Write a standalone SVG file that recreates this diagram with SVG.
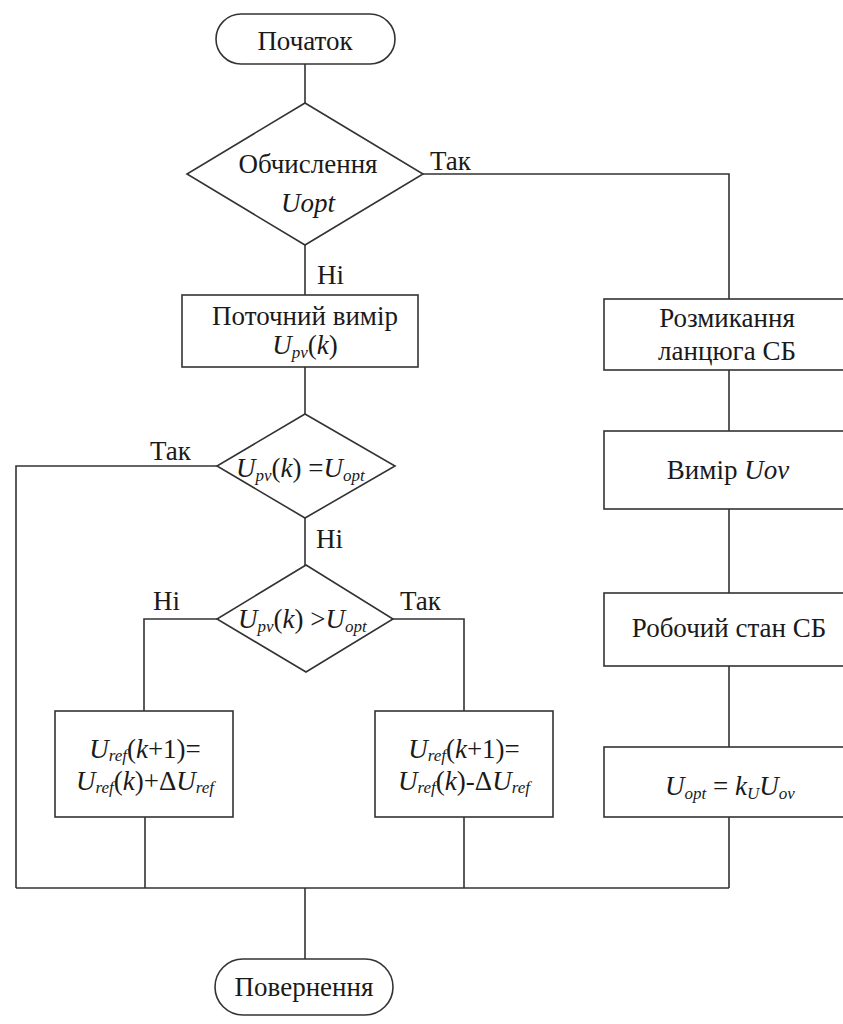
<svg xmlns="http://www.w3.org/2000/svg" width="843" height="1024" viewBox="0 0 843 1024">
<style>
.s{fill:#fff;stroke:#333;stroke-width:1.6}
.c{fill:none;stroke:#333;stroke-width:1.6}
text{font-size:27px;fill:#1a1a1a}
.m{text-anchor:middle}
.i{font-style:italic}
.sb{font-size:17px;font-style:italic}
</style>
<rect width="843" height="1024" fill="#fff"/>
<g id="connectors">
<path class="c" d="M305,64V103M305,245V295M305,367V414M305,518V565"/>
<path class="c" d="M423,174H729V299M729,370V431M729,509V593M729,666V747"/>
<path class="c" d="M217,466H16V888M217,619H144V711M393,619H464V711"/>
<path class="c" d="M16,888H729M145,817V888M464,817V888M729,817V888M305,888V959"/>
</g>
<g font-family="Liberation Serif, DejaVu Serif, Times New Roman, serif">
<g id="start">
<rect class="s" x="216" y="14" width="179" height="50" rx="25"/>
<text class="m" x="305" y="50">Початок</text>
</g>
<g id="calc">
<polygon class="s" points="305,103 423,174 305,245 187,174"/>
<text class="m" x="308" y="173">Обчислення</text>
<text class="m i" x="308" y="212">Uopt</text>
<text x="430" y="170">Так</text>
<text x="317" y="284">Ні</text>
</g>
<g id="measure">
<rect class="s" x="182" y="295" width="236" height="72"/>
<text class="m" x="305" y="325">Поточний вимір</text>
<text class="m" x="305" y="354"><tspan class="i">U</tspan><tspan class="sb" dy="4">pv</tspan><tspan dy="-4">(</tspan><tspan class="i">k</tspan>)</text>
</g>
<g id="eq">
<polygon class="s" points="305,414 395,466 305,518 217,466"/>
<text x="236" y="477"><tspan class="i">U</tspan><tspan class="sb" dy="4">pv</tspan><tspan dy="-4">(</tspan><tspan class="i">k</tspan>) =<tspan class="i">U</tspan><tspan class="sb" dy="4">opt</tspan></text>
<text x="150" y="460">Так</text>
<text x="316" y="548">Ні</text>
</g>
<g id="gt">
<polygon class="s" points="306,565 393,619 306,672 217,619"/>
<text x="238" y="628"><tspan class="i">U</tspan><tspan class="sb" dy="4">pv</tspan><tspan dy="-4">(</tspan><tspan class="i">k</tspan>) &gt;<tspan class="i">U</tspan><tspan class="sb" dy="4">opt</tspan></text>
<text x="153" y="610">Ні</text>
<text x="400" y="610">Так</text>
</g>
<g id="inc">
<rect class="s" x="55" y="711" width="178" height="106"/>
<text class="m" x="145" y="758"><tspan class="i">U</tspan><tspan class="sb" dy="3">ref</tspan><tspan dy="-3">(</tspan><tspan class="i">k</tspan>+1)=</text>
<text class="m" x="145" y="790"><tspan class="i">U</tspan><tspan class="sb" dy="3">ref</tspan><tspan dy="-3">(</tspan><tspan class="i">k</tspan>)+Δ<tspan class="i">U</tspan><tspan class="sb" dy="3">ref</tspan></text>
</g>
<g id="dec">
<rect class="s" x="375" y="711" width="178" height="106"/>
<text class="m" x="464" y="758"><tspan class="i">U</tspan><tspan class="sb" dy="3">ref</tspan><tspan dy="-3">(</tspan><tspan class="i">k</tspan>+1)=</text>
<text class="m" x="464" y="790"><tspan class="i">U</tspan><tspan class="sb" dy="3">ref</tspan><tspan dy="-3">(</tspan><tspan class="i">k</tspan>)-Δ<tspan class="i">U</tspan><tspan class="sb" dy="3">ref</tspan></text>
</g>
<g id="open">
<rect class="s" x="604" y="299" width="260" height="71"/>
<text class="m" x="727" y="327">Розмикання</text>
<text class="m" x="727" y="360">ланцюга СБ</text>
</g>
<g id="uov">
<rect class="s" x="604" y="431" width="260" height="78"/>
<text class="m" x="728" y="479">Вимір <tspan class="i">Uov</tspan></text>
</g>
<g id="work">
<rect class="s" x="604" y="593" width="260" height="73"/>
<text class="m" x="729" y="637">Робочий стан СБ</text>
</g>
<g id="uopt">
<rect class="s" x="604" y="747" width="260" height="70"/>
<text class="m" x="730" y="795"><tspan class="i">U</tspan><tspan class="sb" dy="4">opt</tspan><tspan dy="-4"> = </tspan><tspan class="i">k</tspan><tspan class="sb" dy="4">U</tspan><tspan class="i" dy="-4">U</tspan><tspan class="sb" dy="4">ov</tspan></text>
</g>
<g id="end">
<rect class="s" x="215" y="959" width="178" height="56" rx="28"/>
<text class="m" x="304" y="996">Повернення</text>
</g>
</g>
</svg>
